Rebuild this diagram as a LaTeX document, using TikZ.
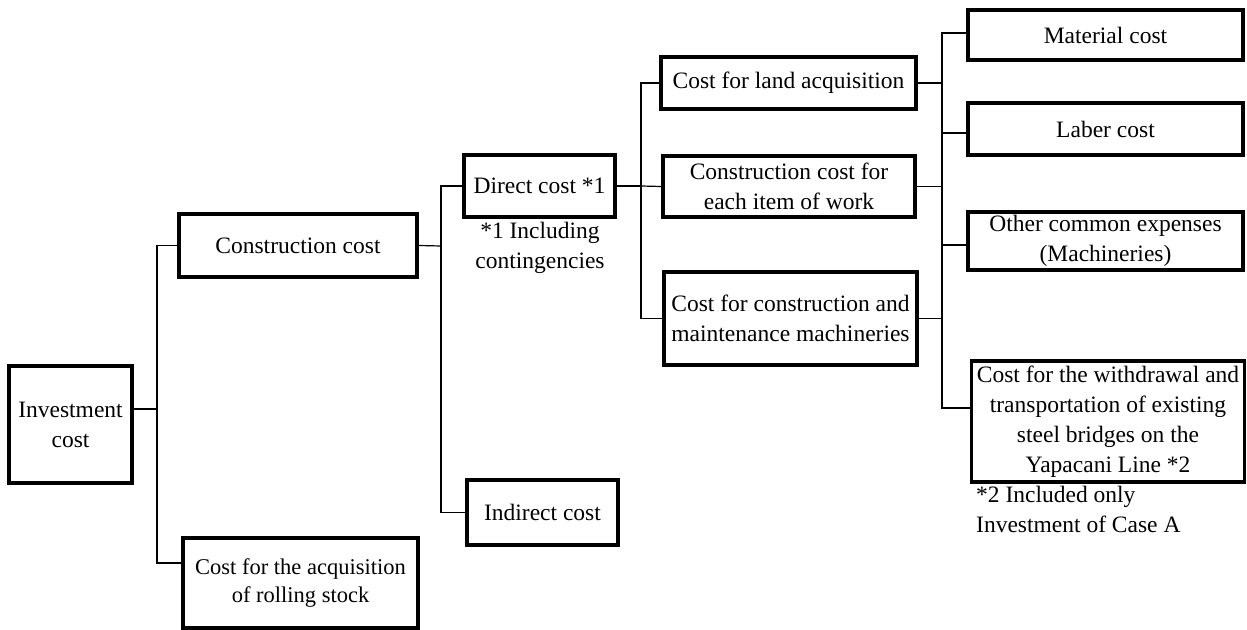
\documentclass[tikz,border=0pt]{standalone}
\usepackage{fontspec}
\setmainfont{Liberation Serif}
\tikzset{
    costbox/.style={draw, line width=3.5bp, inner sep=0pt, align=center, font=\fontsize{23.5bp}{30bp}\selectfont},
    costnote/.style={inner sep=0pt, font=\fontsize{23.5bp}{30bp}\selectfont},
    link/.style={line width=1.2bp}
}
\begin{document}
\begin{tikzpicture}[x=1bp, y=-1bp]
    \useasboundingbox (0,0) rectangle (1247,630);

    \node[costbox, minimum width=123bp, minimum height=117bp] at (70.5, 424.5) (inv) {Investment\\cost};
    \node[costbox, minimum width=238bp, minimum height=63bp] at (298, 245.5) (cc) {Construction cost};
    \node[costbox, minimum width=235bp, minimum height=90bp, font=\fontsize{22.5bp}{28bp}\selectfont] at (300.5, 583) (roll) {Cost for the acquisition\\of rolling stock};

    \node[costbox, minimum width=151bp, minimum height=62bp] at (539.5, 186) (dc) {Direct cost *1};
    \node[costnote, align=center] at (540, 248) (dcnote) {*1 Including\\contingencies};
    \node[costbox, minimum width=151bp, minimum height=65bp] at (542.5, 512.5) (ind) {Indirect cost};

    \node[costbox, minimum width=255bp, minimum height=52bp] at (788.5, 83) (land) {Cost for land acquisition};
    \node[costbox, minimum width=252bp, minimum height=61bp] at (789, 186.5) (each) {Construction cost for\\each item of work};
    \node[costbox, minimum width=253bp, minimum height=93bp] at (790.5, 318.5) (mach) {Cost for construction and\\maintenance machineries};

    \node[costbox, minimum width=275bp, minimum height=50bp] at (1105.5, 35) (mat) {Material cost};
    \node[costbox, minimum width=275bp, minimum height=52bp] at (1105.5, 129) (lab) {Laber cost};
    \node[costbox, minimum width=275bp, minimum height=58bp] at (1105.5, 241) (oth) {Other common expenses\\(Machineries)};
    \node[costbox, minimum width=273bp, minimum height=121bp] at (1108, 421.5) (wd) {Cost for the withdrawal and\\transportation of existing\\steel bridges on the\\Yapacani Line *2};
    \node[costnote, align=left, anchor=north west] at (976, 486) (wdnote) {*2 Included only\\Investment of Case A};

    \coordinate (busA) at (157, 409);
    \coordinate (busB) at (441, 246);
    \coordinate (busC) at (641, 186);
    \coordinate (busD) at (942, 83);

    \draw[link] (inv.east |- busA) -- (busA);
    \draw[link] (busA) |- (cc.west);
    \draw[link] (busA) |- ([yshift=20bp]roll.west);

    \draw[link] (cc.east) -- (busB);
    \draw[link] (busB) |- (dc.west);
    \draw[link] (busB) |- (ind.west);

    \draw[link] (dc.east) -- (busC);
    \draw[link] (busC) |- (land.west);
    \draw[link] (busC) -- (each.west);
    \draw[link] (busC) |- (mach.west);

    \draw[link] (land.east) -- (busD);
    \draw[link] (each.east) -- (each.east -| busD);
    \draw[link] (mach.east) -- (mach.east -| busD);
    \draw[link] (busD) |- ([yshift=2bp]mat.west);
    \draw[link] (busD) |- ([yshift=-4bp]lab.west);
    \draw[link] (busD) |- ([yshift=-4bp]oth.west);
    \draw[link] (busD) |- ([yshift=13.5bp]wd.west);
  \end{tikzpicture}
\end{document}
